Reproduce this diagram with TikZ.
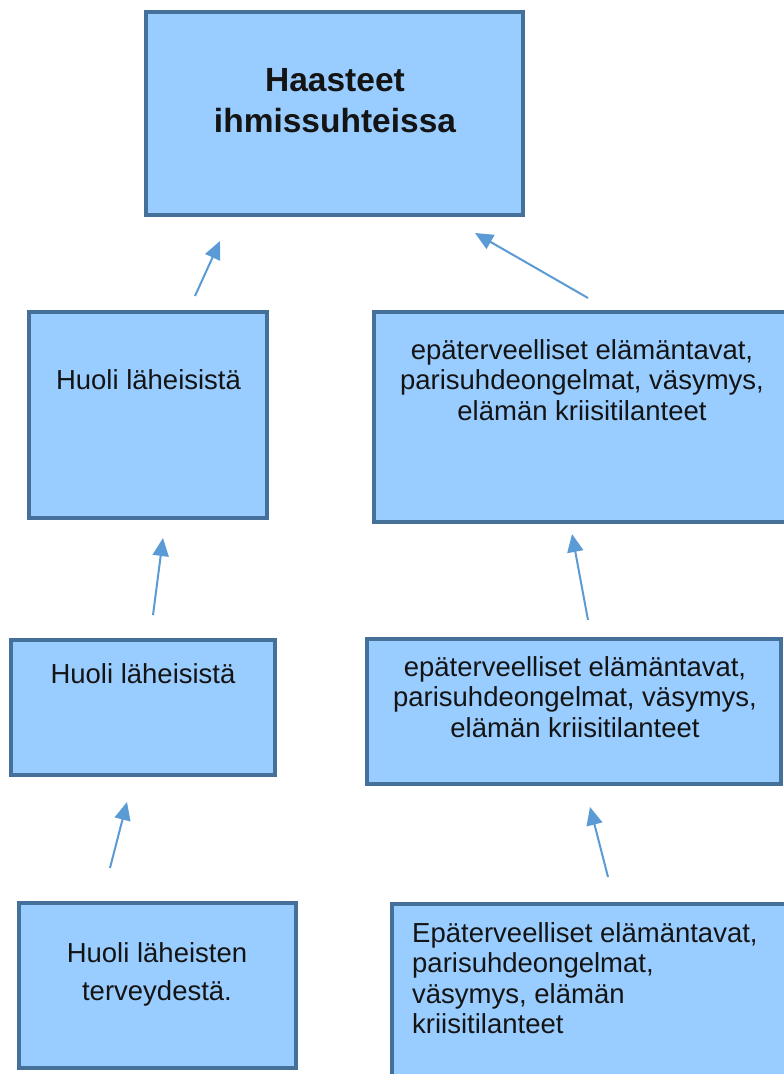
\documentclass[tikz,border=0pt]{standalone}
\usepackage{fontspec}
\setmainfont{Liberation Sans}
\usetikzlibrary{arrows.meta}
\definecolor{boxfill}{HTML}{99CCFF}
\definecolor{boxline}{HTML}{44709A}
\definecolor{arrowblue}{HTML}{5B9BD5}
\definecolor{ink}{HTML}{141414}
\tikzset{
  box/.style={draw=boxline, fill=boxfill, line width=3.5pt, rectangle,
    anchor=north west, inner sep=0pt, outer sep=0pt},
  txt/.style={anchor=base, inner sep=0pt, text=ink,
    font=\fontsize{27.5}{30.7}\selectfont},
  title/.style={anchor=base, inner sep=0pt, text=ink,
    font=\fontsize{33.5}{41}\selectfont\bfseries},
  arr/.style={draw=arrowblue, line width=2pt,
    -{Triangle[length=18pt,width=16pt]}}
}
\newcommand{\lines}[2][c]{\begin{tabular}[t]{@{}#1@{}}#2\end{tabular}}
\begin{document}
\begin{tikzpicture}[x=1pt,y=-1pt]
  \clip (0,0) rectangle (784,1074);
  \fill[white] (0,0) rectangle (784,1074);

  % boxes
  \node[box, minimum width=377pt, minimum height=203pt] (A) at (146,12) {};
  \node[box, minimum width=238pt, minimum height=206pt] (B) at (29,312) {};
  \node[box, minimum width=420pt, minimum height=210pt] (C) at (374,312) {};
  \node[box, minimum width=264pt, minimum height=135pt] (D) at (11,640) {};
  \node[box, minimum width=414pt, minimum height=145pt] (E) at (367,639) {};
  \node[box, minimum width=277pt, minimum height=165pt] (F) at (19,903) {};
  \node[box, minimum width=420pt, minimum height=200pt] (G) at (392,904) {};

  % box texts
  \node[title] (tA) at (335,91)
    {\renewcommand{\arraystretch}{1}\lines{Haasteet\\ihmissuhteissa}};
  \node[txt] (tB) at (148.5,389) {Huoli läheisistä};
  \node[txt] (tC) at (582,359)
    {\lines{epäterveelliset elämäntavat,\\parisuhdeongelmat, väsymys,\\elämän kriisitilanteet}};
  \node[txt] (tD) at (143,683) {Huoli läheisistä};
  \node[txt] (tE) at (575,676)
    {\lines{epäterveelliset elämäntavat,\\parisuhdeongelmat, väsymys,\\elämän kriisitilanteet}};
  \node[txt, font=\fontsize{27.5}{38}\selectfont] (tF) at (157,962)
    {\lines{Huoli läheisten\\terveydestä.}};
  \node[txt, anchor=base west, font=\fontsize{27.5}{30.5}\selectfont] (tG) at (412,942)
    {\lines[l]{Epäterveelliset elämäntavat,\\parisuhdeongelmat,\\väsymys, elämän\\kriisitilanteet}};

  % arrow ends
  \coordinate (b1) at (195,296);  \coordinate (a1) at (220,241);
  \coordinate (c1) at (588,298);  \coordinate (a2) at (475,233);
  \coordinate (d1) at (153,615);  \coordinate (b2) at (163,538);
  \coordinate (f1) at (110,868);  \coordinate (d2) at (127,802);
  \coordinate (e1) at (588,620);  \coordinate (c2) at (572,534);
  \coordinate (g1) at (608,877);  \coordinate (e2) at (590,807);

  % arrows
  \draw[arr] (b1) -- (a1);
  \draw[arr] (c1) -- (a2);
  \draw[arr] (d1) -- (b2);
  \draw[arr] (f1) -- (d2);
  \draw[arr] (e1) -- (c2);
  \draw[arr] (g1) -- (e2);
\end{tikzpicture}
\end{document}
